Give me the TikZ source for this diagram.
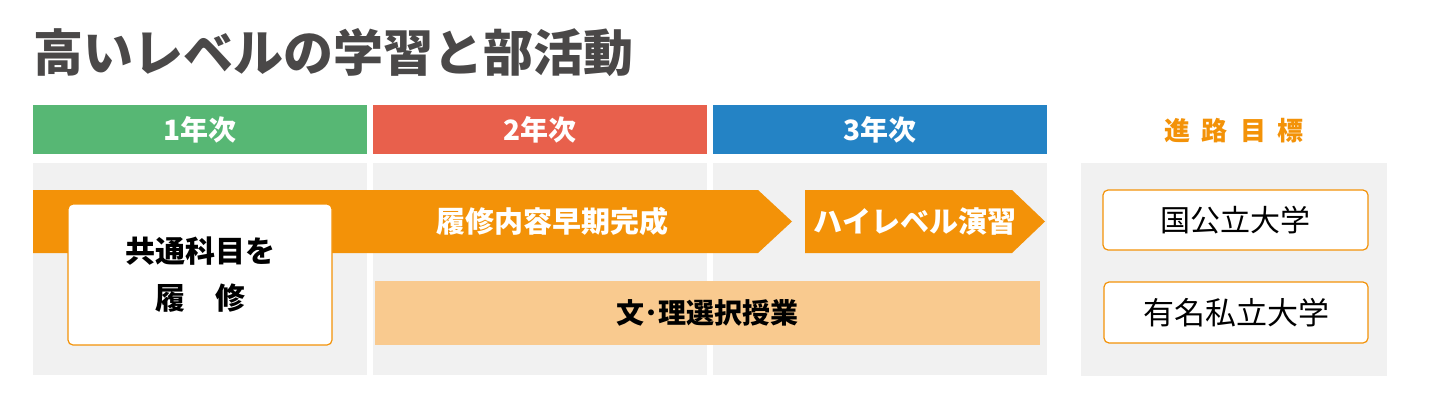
\documentclass[tikz,border=0pt]{standalone}
\usepackage{fontspec}
\setmainfont{Noto Sans CJK JP}
\usepackage{xcolor}
\definecolor{vert}{HTML}{57B774}
\definecolor{rouge}{HTML}{E8604C}
\definecolor{bleu}{HTML}{2483C5}
\definecolor{orangevif}{HTML}{F39208}
\definecolor{orangepale}{HTML}{F9CA8F}
\definecolor{grisdoux}{HTML}{F1F1F1}
\definecolor{gristitre}{HTML}{4A4848}
\usepackage{tikz}
\usetikzlibrary{positioning}

\begin{document}
\begin{tikzpicture}[x=0.5pt,y=-0.5pt,
  annee/.style={minimum width=167pt,minimum height=24.5pt,inner sep=0pt,text=white,
    font=\fontsize{14}{16}\selectfont\bfseries},
  fond/.style={fill=grisdoux,minimum width=167pt,minimum height=106pt,inner sep=0pt},
  cadre/.style={draw=orangevif,fill=white,rounded corners=2.5pt,line width=0.6pt,inner sep=0pt},
  fleche/.style={fill=orangevif}]
\useasboundingbox (0,0) rectangle (1446,408);
% titre
\node[anchor=west,inner sep=0pt,text=gristitre,font=\fontsize{25}{30}\selectfont\bfseries]
  (titre) at (33,53) {高いレベルの学習と部活動};
% en-tetes des trois annees
\node[annee,fill=vert] (an1) at (200,129.5) {1年次};
\node[annee,fill=rouge] (an2) at (540,129.5) {2年次};
\node[annee,fill=bleu] (an3) at (880,129.5) {3年次};
\node[text=orangevif,font=\fontsize{13}{15}\selectfont\bfseries] (but) at (1234,131)
  {進\hspace{6pt}路\hspace{6pt}目\hspace{6pt}標};
% colonnes grises
\node[fond] (col1) at (200,269) {};
\node[fond] (col2) at (540,269) {};
\node[fond] (col3) at (880,269) {};
\node[fond,minimum width=153pt,minimum height=106.5pt] (col4) at (1234,269.5) {};
% fleches du parcours
\path[fleche] (33,190) -- (758,190) -- (792,221.5) -- (758,253) -- (33,253) -- cycle;
\path[fleche] (805,190) -- (1012,190) -- (1045,221.5) -- (1012,253) -- (805,253) -- cycle;
\node[text=white,font=\fontsize{14.5}{17}\selectfont\bfseries] (precoce) at (552,221.5)
  {履修内容早期完成};
\node[text=white,font=\fontsize{14.5}{17}\selectfont\bfseries] (exercice) at (915,222)
  {ハイレベル演習};
% tronc commun
\node[cadre,minimum width=132pt,minimum height=70.5pt,align=center,
  font=\fontsize{15}{23.5}\selectfont\bfseries] (commun) at (200,274.5)
  {共通科目を\\履　修};
% bande des options
\node[fill=orangepale,minimum width=332.5pt,minimum height=32pt,inner sep=0pt,
  font=\fontsize{14}{17}\selectfont\bfseries] (option) at (707.5,313) {文･理選択授業};
% objectifs
\node[cadre,minimum width=132.5pt,minimum height=30pt,font=\fontsize{15}{18}\selectfont]
  (public) at (1235.5,220) {国公立大学};
\node[cadre,minimum width=132pt,minimum height=30.5pt,font=\fontsize{15.5}{18}\selectfont]
  (prive) at (1236,312.5) {有名私立大学};
\end{tikzpicture}
\end{document}
